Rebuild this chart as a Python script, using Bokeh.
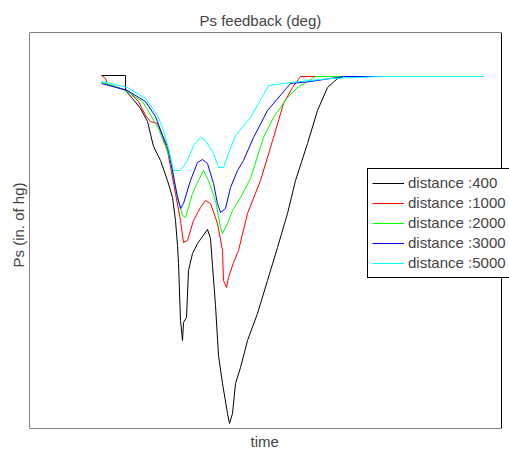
from bokeh.plotting import figure
from bokeh.models import Range1d, Title, Legend, LegendItem, BoxAnnotation
from bokeh.embed import file_html
from bokeh.resources import INLINE

FONT = "Liberation Sans"

labels = ["distance :400", "distance :1000", "distance :2000", "distance :3000", "distance :5000"]
colors = ["#000000", "#ff0000", "#00ff00", "#0000ff", "#00ffff"]

t_400 = [72, 96, 96, 103, 111, 118, 124, 131, 138, 143, 146, 148, 149, 151, 153, 154, 157, 159, 163, 168,
         178, 181, 183, 186, 189, 193, 198, 200, 203, 206, 211, 218, 228, 238, 248, 258, 266, 278, 288, 298,
         308, 314, 454]
ps_400 = [353, 353, 338, 330, 320, 307, 282, 268, 248, 231, 208, 183, 165, 108, 88, 106, 111, 158, 175, 185,
          199, 190, 163, 123, 73, 45, 15, 5, 15, 45, 61, 88, 115, 148, 181, 215, 248, 285, 318, 341,
          350, 352, 352]

t_1000 = [72, 76, 78, 98, 109, 116, 121, 128, 133, 138, 146, 151, 154, 158, 164, 171, 176, 181, 188, 193,
          194, 197, 199, 204, 209, 218, 231, 244, 254, 263, 271, 454]
ps_1000 = [353, 350, 344, 338, 327, 313, 307, 305, 293, 278, 235, 208, 186, 188, 208, 221, 228, 225, 205, 178,
           148, 141, 151, 166, 178, 215, 248, 291, 325, 341, 352, 352]

t_2000 = [72, 86, 98, 113, 119, 129, 136, 141, 146, 153, 156, 163, 169, 174, 179, 186, 191, 193, 198, 203,
          211, 221, 234, 244, 258, 268, 286, 454]
ps_2000 = [346, 342, 337, 327, 317, 300, 282, 268, 241, 213, 211, 235, 248, 258, 248, 228, 201, 195, 205, 218,
           231, 250, 291, 311, 331, 341, 352, 352]

t_3000 = [72, 98, 116, 126, 133, 138, 141, 148, 151, 154, 161, 168, 173, 178, 184, 188, 191, 196, 201, 208,
          214, 224, 238, 261, 281, 314, 454]
ps_3000 = [345, 338, 327, 312, 293, 282, 268, 231, 220, 225, 248, 266, 269, 265, 245, 225, 216, 220, 241, 258,
           268, 291, 318, 345, 347, 352, 352]

t_5000 = [72, 98, 116, 128, 134, 139, 144, 151, 158, 164, 171, 176, 184, 189, 194, 199, 206, 221, 239, 261,
          301, 351, 454]
ps_5000 = [347, 341, 330, 313, 298, 280, 258, 258, 268, 283, 291, 288, 275, 261, 261, 275, 293, 311, 343, 346,
           350, 352, 352]

series_t = [t_400, t_1000, t_2000, t_3000, t_5000]
series_ps = [ps_400, ps_1000, ps_2000, ps_3000, ps_5000]

# plotted time/pressure extent (the drawn frame box); the canvas frame runs a bit wider
t_min, t_max = 0, 472
ps_min, ps_max = 0, 396

p = figure(frame_width=480, frame_height=396,
           x_range=Range1d(0, 480), y_range=Range1d(ps_min, ps_max),
           x_axis_location=None, y_axis_location=None,
           toolbar_location=None, output_backend="svg",
           min_border_left=29, min_border_right=0, min_border_top=32, min_border_bottom=26,
           title="Ps feedback (deg)")
p.grid.visible = False
p.outline_line_color = None
p.background_fill_color = "white"
p.border_fill_color = "white"

p.title.align = "left"
p.title.offset = 170
p.title.text_font = FONT
p.title.text_font_size = "15px"
p.title.text_font_style = "normal"
p.title.standoff = 8

p.add_layout(Title(text="time", align="left", offset=221, text_font=FONT, text_font_size="15px",
                   text_font_style="normal", standoff=4), "below")
p.add_layout(Title(text="Ps (in. of hg)", align="left", offset=161, text_font=FONT, text_font_size="15px",
                   text_font_style="normal", standoff=6), "left")

box = BoxAnnotation(left=t_min, right=t_max, bottom=ps_min, top=ps_max,
                    fill_alpha=0, line_color="black", line_width=1, line_alpha=1)
p.add_layout(box)

items = []
for t, ps, c, lab in zip(series_t, series_ps, colors, labels):
    r = p.line(t, ps, line_color=c, line_width=1)
    items.append(LegendItem(label=lab, renderers=[r]))

legend = Legend(items=items, location=(338, 150.5), orientation="vertical",
                label_text_font=FONT, label_text_font_size="15px",
                border_line_color="black", border_line_width=1, border_line_alpha=1,
                background_fill_color="white", background_fill_alpha=1,
                padding=4, spacing=0, margin=0, glyph_width=32, glyph_height=20,
                label_height=20, label_standoff=4)
p.add_layout(legend, "center")

open("out.html", "w").write(file_html(p, INLINE))
